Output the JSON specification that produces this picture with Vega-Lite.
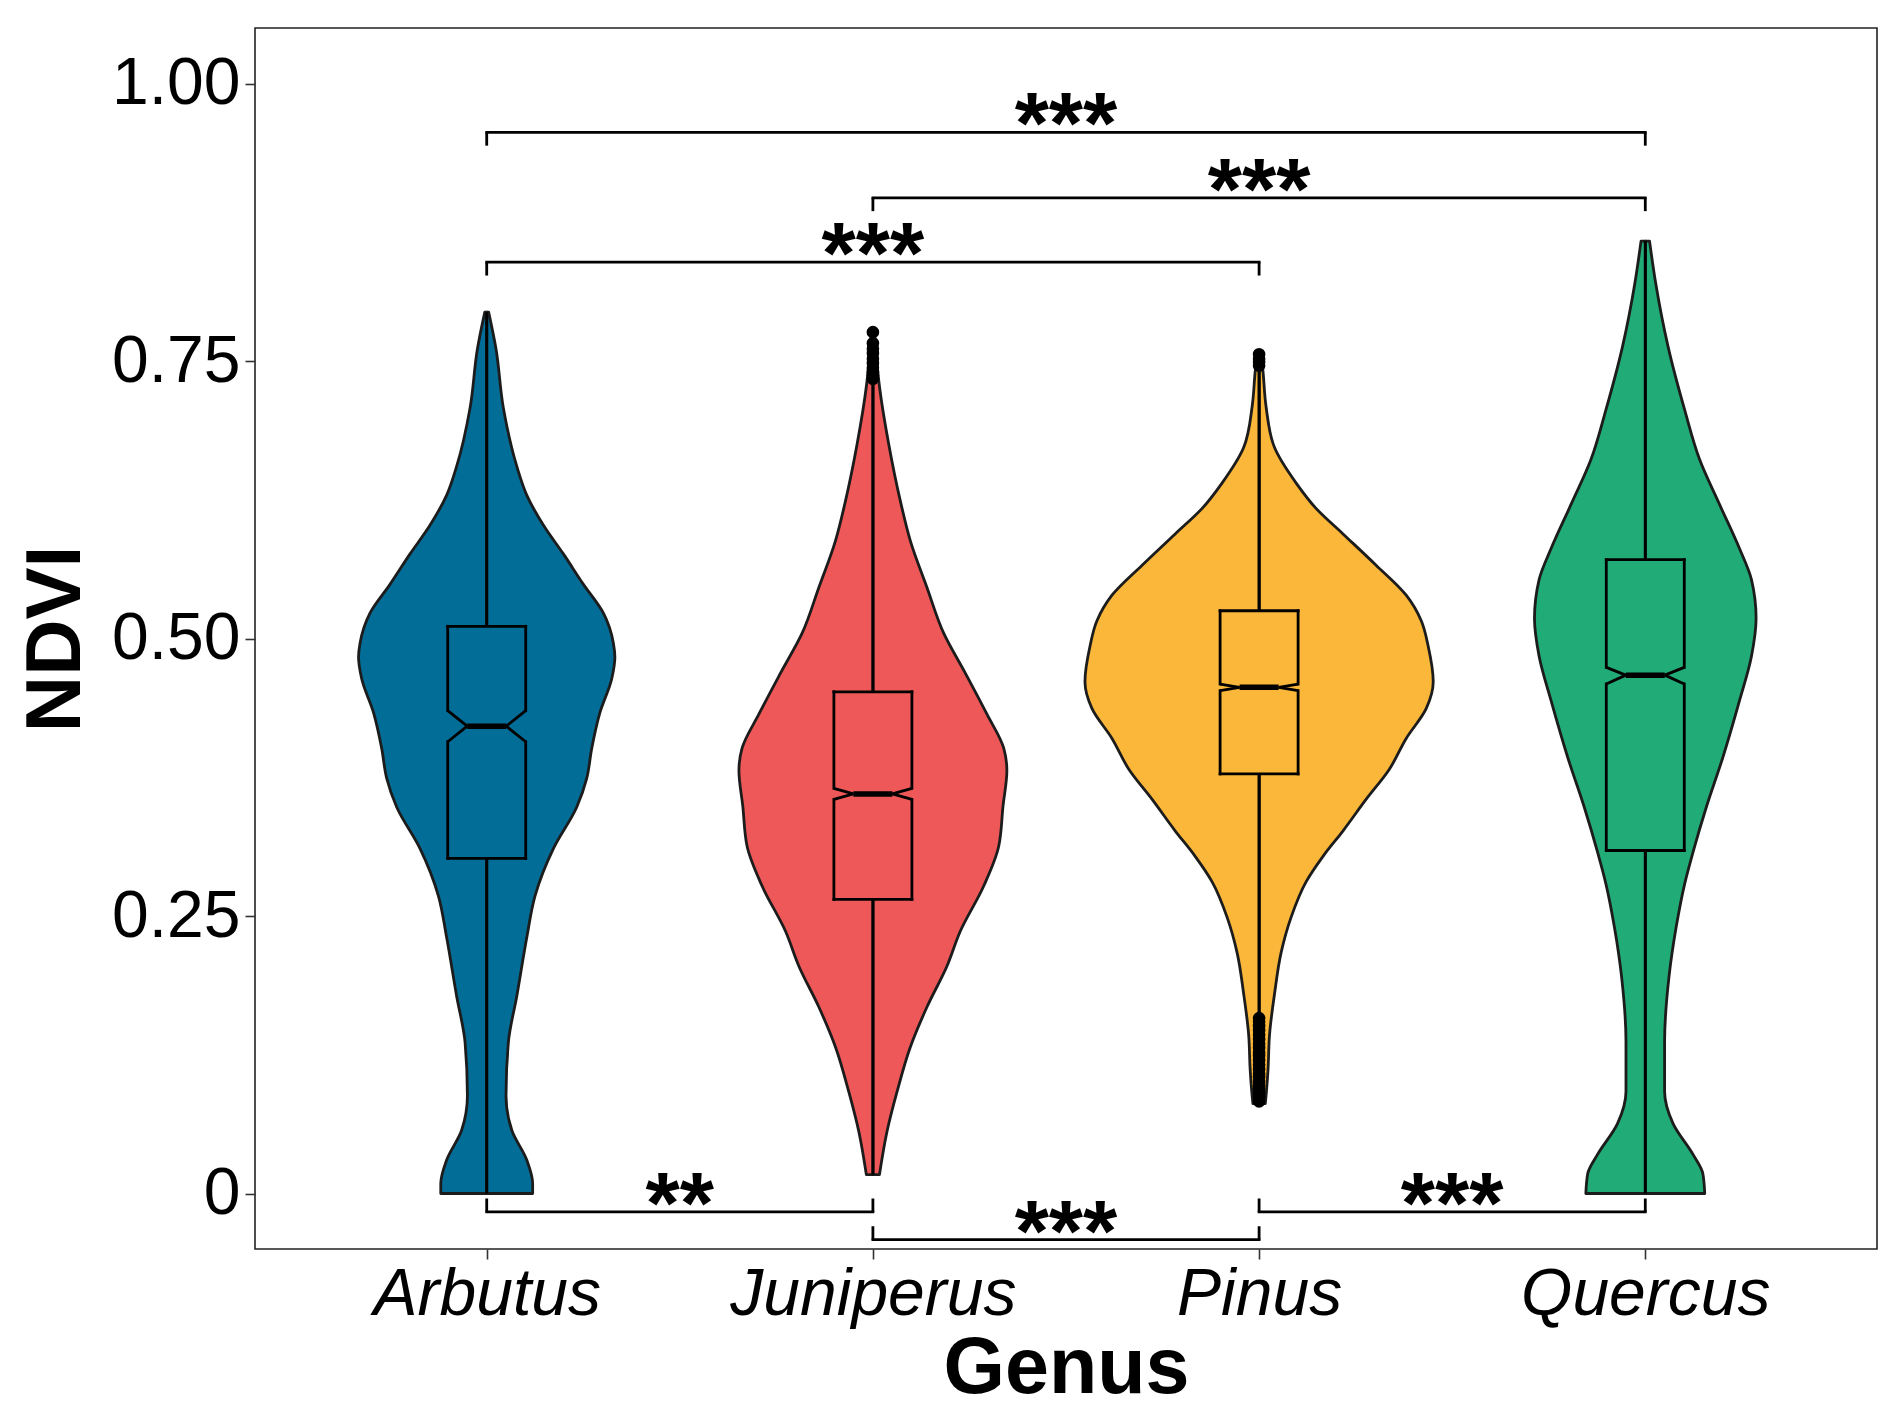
{
  "$schema": "https://vega.github.io/schema/vega-lite/v6.json",
  "width": 1622,
  "height": 1221,
  "autosize": {"type": "none"},
  "padding": {"left": 255, "top": 28, "right": 22, "bottom": 170},
  "background": "white",
  "config": {"view": {"stroke": "#222222", "strokeWidth": 1.6}, "font": "Liberation Sans"},
  "datasets": {
    "violin": [
      {"genus": "Arbutus", "ndvi": 0.794, "density": 0.005},
      {"genus": "Arbutus", "ndvi": 0.761, "density": 0.024},
      {"genus": "Arbutus", "ndvi": 0.708, "density": 0.043},
      {"genus": "Arbutus", "ndvi": 0.655, "density": 0.078},
      {"genus": "Arbutus", "ndvi": 0.629, "density": 0.104},
      {"genus": "Arbutus", "ndvi": 0.602, "density": 0.147},
      {"genus": "Arbutus", "ndvi": 0.576, "density": 0.199},
      {"genus": "Arbutus", "ndvi": 0.549, "density": 0.25},
      {"genus": "Arbutus", "ndvi": 0.523, "density": 0.302},
      {"genus": "Arbutus", "ndvi": 0.496, "density": 0.328},
      {"genus": "Arbutus", "ndvi": 0.483, "density": 0.332},
      {"genus": "Arbutus", "ndvi": 0.464, "density": 0.324},
      {"genus": "Arbutus", "ndvi": 0.433, "density": 0.293},
      {"genus": "Arbutus", "ndvi": 0.401, "density": 0.272},
      {"genus": "Arbutus", "ndvi": 0.374, "density": 0.259},
      {"genus": "Arbutus", "ndvi": 0.348, "density": 0.233},
      {"genus": "Arbutus", "ndvi": 0.311, "density": 0.173},
      {"genus": "Arbutus", "ndvi": 0.268, "density": 0.125},
      {"genus": "Arbutus", "ndvi": 0.231, "density": 0.104},
      {"genus": "Arbutus", "ndvi": 0.178, "density": 0.078},
      {"genus": "Arbutus", "ndvi": 0.136, "density": 0.056},
      {"genus": "Arbutus", "ndvi": 0.088, "density": 0.05},
      {"genus": "Arbutus", "ndvi": 0.057, "density": 0.065},
      {"genus": "Arbutus", "ndvi": 0.03, "density": 0.104},
      {"genus": "Arbutus", "ndvi": 0.009, "density": 0.119},
      {"genus": "Arbutus", "ndvi": 0.0, "density": 0.119},
      {"genus": "Juniperus", "ndvi": 0.777, "density": 0.004},
      {"genus": "Juniperus", "ndvi": 0.727, "density": 0.017},
      {"genus": "Juniperus", "ndvi": 0.675, "density": 0.041},
      {"genus": "Juniperus", "ndvi": 0.624, "density": 0.071},
      {"genus": "Juniperus", "ndvi": 0.588, "density": 0.097},
      {"genus": "Juniperus", "ndvi": 0.546, "density": 0.14},
      {"genus": "Juniperus", "ndvi": 0.505, "density": 0.183},
      {"genus": "Juniperus", "ndvi": 0.469, "density": 0.239},
      {"genus": "Juniperus", "ndvi": 0.432, "density": 0.295},
      {"genus": "Juniperus", "ndvi": 0.401, "density": 0.339},
      {"genus": "Juniperus", "ndvi": 0.381, "density": 0.347},
      {"genus": "Juniperus", "ndvi": 0.349, "density": 0.337},
      {"genus": "Juniperus", "ndvi": 0.313, "density": 0.326},
      {"genus": "Juniperus", "ndvi": 0.277, "density": 0.287},
      {"genus": "Juniperus", "ndvi": 0.236, "density": 0.226},
      {"genus": "Juniperus", "ndvi": 0.205, "density": 0.192},
      {"genus": "Juniperus", "ndvi": 0.168, "density": 0.14},
      {"genus": "Juniperus", "ndvi": 0.132, "density": 0.097},
      {"genus": "Juniperus", "ndvi": 0.091, "density": 0.062},
      {"genus": "Juniperus", "ndvi": 0.055, "density": 0.036},
      {"genus": "Juniperus", "ndvi": 0.017, "density": 0.017},
      {"genus": "Pinus", "ndvi": 0.757, "density": 0.005},
      {"genus": "Pinus", "ndvi": 0.741, "density": 0.01},
      {"genus": "Pinus", "ndvi": 0.709, "density": 0.018},
      {"genus": "Pinus", "ndvi": 0.672, "density": 0.04},
      {"genus": "Pinus", "ndvi": 0.64, "density": 0.096},
      {"genus": "Pinus", "ndvi": 0.617, "density": 0.148},
      {"genus": "Pinus", "ndvi": 0.594, "density": 0.218},
      {"genus": "Pinus", "ndvi": 0.566, "density": 0.303},
      {"genus": "Pinus", "ndvi": 0.539, "density": 0.381},
      {"genus": "Pinus", "ndvi": 0.516, "density": 0.42},
      {"genus": "Pinus", "ndvi": 0.493, "density": 0.438},
      {"genus": "Pinus", "ndvi": 0.461, "density": 0.451},
      {"genus": "Pinus", "ndvi": 0.437, "density": 0.433},
      {"genus": "Pinus", "ndvi": 0.41, "density": 0.381},
      {"genus": "Pinus", "ndvi": 0.382, "density": 0.337},
      {"genus": "Pinus", "ndvi": 0.355, "density": 0.277},
      {"genus": "Pinus", "ndvi": 0.327, "density": 0.218},
      {"genus": "Pinus", "ndvi": 0.304, "density": 0.166},
      {"genus": "Pinus", "ndvi": 0.281, "density": 0.122},
      {"genus": "Pinus", "ndvi": 0.249, "density": 0.083},
      {"genus": "Pinus", "ndvi": 0.217, "density": 0.057},
      {"genus": "Pinus", "ndvi": 0.18, "density": 0.04},
      {"genus": "Pinus", "ndvi": 0.143, "density": 0.027},
      {"genus": "Pinus", "ndvi": 0.111, "density": 0.023},
      {"genus": "Pinus", "ndvi": 0.088, "density": 0.018},
      {"genus": "Pinus", "ndvi": 0.081, "density": 0.016},
      {"genus": "Quercus", "ndvi": 0.858, "density": 0.011},
      {"genus": "Quercus", "ndvi": 0.82, "density": 0.027},
      {"genus": "Quercus", "ndvi": 0.763, "density": 0.059},
      {"genus": "Quercus", "ndvi": 0.706, "density": 0.102},
      {"genus": "Quercus", "ndvi": 0.661, "density": 0.141},
      {"genus": "Quercus", "ndvi": 0.621, "density": 0.192},
      {"genus": "Quercus", "ndvi": 0.581, "density": 0.244},
      {"genus": "Quercus", "ndvi": 0.553, "density": 0.275},
      {"genus": "Quercus", "ndvi": 0.518, "density": 0.287},
      {"genus": "Quercus", "ndvi": 0.484, "density": 0.275},
      {"genus": "Quercus", "ndvi": 0.444, "density": 0.244},
      {"genus": "Quercus", "ndvi": 0.393, "density": 0.201},
      {"genus": "Quercus", "ndvi": 0.348, "density": 0.158},
      {"genus": "Quercus", "ndvi": 0.308, "density": 0.124},
      {"genus": "Quercus", "ndvi": 0.279, "density": 0.102},
      {"genus": "Quercus", "ndvi": 0.24, "density": 0.08},
      {"genus": "Quercus", "ndvi": 0.194, "density": 0.061},
      {"genus": "Quercus", "ndvi": 0.137, "density": 0.05},
      {"genus": "Quercus", "ndvi": 0.092, "density": 0.05},
      {"genus": "Quercus", "ndvi": 0.063, "density": 0.072},
      {"genus": "Quercus", "ndvi": 0.035, "density": 0.124},
      {"genus": "Quercus", "ndvi": 0.018, "density": 0.149},
      {"genus": "Quercus", "ndvi": 0.0, "density": 0.154}
    ],
    "box": [
      {"genus": "Arbutus", "lower": 0.302, "upper": 0.511, "median": 0.421, "notch_lo": 0.407, "notch_hi": 0.435, "whisk_lo": 0.0, "whisk_hi": 0.794},
      {"genus": "Juniperus", "lower": 0.265, "upper": 0.452, "median": 0.36, "notch_lo": 0.355, "notch_hi": 0.365, "whisk_lo": 0.017, "whisk_hi": 0.73},
      {"genus": "Pinus", "lower": 0.378, "upper": 0.525, "median": 0.456, "notch_lo": 0.453, "notch_hi": 0.459, "whisk_lo": 0.16, "whisk_hi": 0.745},
      {"genus": "Quercus", "lower": 0.309, "upper": 0.571, "median": 0.467, "notch_lo": 0.459, "notch_hi": 0.474, "whisk_lo": 0.0, "whisk_hi": 0.858}
    ],
    "outliers": [
      {"genus": "Juniperus", "ndvi": 0.776},
      {"genus": "Juniperus", "ndvi": 0.766},
      {"genus": "Juniperus", "ndvi": 0.761},
      {"genus": "Juniperus", "ndvi": 0.757},
      {"genus": "Juniperus", "ndvi": 0.752},
      {"genus": "Juniperus", "ndvi": 0.748},
      {"genus": "Juniperus", "ndvi": 0.744},
      {"genus": "Juniperus", "ndvi": 0.74},
      {"genus": "Juniperus", "ndvi": 0.737},
      {"genus": "Juniperus", "ndvi": 0.734},
      {"genus": "Pinus", "ndvi": 0.756},
      {"genus": "Pinus", "ndvi": 0.752},
      {"genus": "Pinus", "ndvi": 0.749},
      {"genus": "Pinus", "ndvi": 0.746},
      {"genus": "Pinus", "ndvi": 0.083},
      {"genus": "Pinus", "ndvi": 0.087},
      {"genus": "Pinus", "ndvi": 0.09},
      {"genus": "Pinus", "ndvi": 0.094},
      {"genus": "Pinus", "ndvi": 0.097},
      {"genus": "Pinus", "ndvi": 0.101},
      {"genus": "Pinus", "ndvi": 0.105},
      {"genus": "Pinus", "ndvi": 0.108},
      {"genus": "Pinus", "ndvi": 0.112},
      {"genus": "Pinus", "ndvi": 0.116},
      {"genus": "Pinus", "ndvi": 0.12},
      {"genus": "Pinus", "ndvi": 0.124},
      {"genus": "Pinus", "ndvi": 0.127},
      {"genus": "Pinus", "ndvi": 0.131},
      {"genus": "Pinus", "ndvi": 0.135},
      {"genus": "Pinus", "ndvi": 0.139},
      {"genus": "Pinus", "ndvi": 0.143},
      {"genus": "Pinus", "ndvi": 0.147},
      {"genus": "Pinus", "ndvi": 0.151},
      {"genus": "Pinus", "ndvi": 0.155},
      {"genus": "Pinus", "ndvi": 0.158}
    ],
    "brackets": [
      {"g1": "Arbutus", "g2": "Quercus", "y": 0.956, "yt": 0.944, "mid": 2.5, "label": "***"},
      {"g1": "Juniperus", "g2": "Quercus", "y": 0.897, "yt": 0.885, "mid": 3.0, "label": "***"},
      {"g1": "Arbutus", "g2": "Pinus", "y": 0.839, "yt": 0.827, "mid": 2.0, "label": "***"},
      {"g1": "Arbutus", "g2": "Juniperus", "y": -0.0165, "yt": -0.0045, "mid": 1.5, "label": "**"},
      {"g1": "Juniperus", "g2": "Pinus", "y": -0.0415, "yt": -0.0295, "mid": 2.5, "label": "***"},
      {"g1": "Pinus", "g2": "Quercus", "y": -0.0165, "yt": -0.0045, "mid": 3.5, "label": "***"}
    ]
  },
  "layer": [
    {
      "resolve": {"scale": {"xOffset": "independent"}},
      "layer": [
        {
          "data": {"name": "violin"},
          "mark": {"type": "area", "orient": "horizontal", "interpolate": "monotone", "stroke": "#1c1c1c", "strokeWidth": 2.8, "strokeJoin": "round"},
          "encoding": {
            "x": {"field": "genus", "type": "nominal", "title": "Genus",
              "scale": {"type": "point", "domain": ["Arbutus", "Juniperus", "Pinus", "Quercus"], "padding": 0.6},
              "axis": {"labelFontSize": 66, "labelFontStyle": "italic", "labelColor": "#000000", "labelAngle": 0, "labelPadding": 3, "labelLimit": 600,
                "tickSize": 10, "tickColor": "#333333", "tickWidth": 1.6, "domain": false, "grid": false,
                "titleFontSize": 79, "titleFontWeight": "bold", "titleColor": "#000000", "titlePadding": 3}},
            "x2": {"field": "genus"},
            "xOffset": {"field": "density", "type": "quantitative", "scale": {"domain": [0, 1], "range": [0, 386.1]}},
            "y": {"field": "ndvi", "type": "quantitative", "title": "NDVI", "stack": null,
              "scale": {"domain": [-0.05, 1.05], "nice": false, "zero": false},
              "axis": {"values": [0, 0.25, 0.5, 0.75, 1], "labelExpr": "datum.value === 0 ? '0' : format(datum.value, '.2f')",
                "labelFontSize": 66, "labelColor": "#000000", "labelPadding": 5, "tickSize": 10, "tickColor": "#333333", "tickWidth": 1.6,
                "domain": false, "grid": false, "titleFontSize": 78, "titleFontWeight": "bold", "titleColor": "#000000", "titlePadding": 16}},
            "fill": {"field": "genus", "type": "nominal", "legend": null,
              "scale": {"domain": ["Arbutus", "Juniperus", "Pinus", "Quercus"], "range": ["#026D97", "#EF5858", "#FBB73A", "#21AB76"]}}
          }
        },
        {
          "data": {"name": "violin"},
          "mark": {"type": "area", "orient": "horizontal", "interpolate": "monotone", "stroke": "#1c1c1c", "strokeWidth": 2.8, "strokeJoin": "round"},
          "encoding": {
            "x": {"field": "genus", "type": "nominal", "title": "Genus"},
            "x2": {"field": "genus"},
            "xOffset": {"field": "density", "type": "quantitative", "scale": {"domain": [0, 1], "range": [0, -386.1]}},
            "y": {"field": "ndvi", "type": "quantitative", "title": "NDVI", "stack": null},
            "fill": {"field": "genus", "type": "nominal", "legend": null}
          }
        },
        {
          "data": {"name": "box"},
          "mark": {"type": "rule", "strokeWidth": 77},
          "encoding": {
            "x": {"field": "genus", "type": "nominal", "title": "Genus"},
            "y": {"field": "lower", "type": "quantitative", "title": "NDVI"},
            "y2": {"field": "upper"},
            "color": {"field": "genus", "type": "nominal", "legend": null,
              "scale": {"domain": ["Arbutus", "Juniperus", "Pinus", "Quercus"], "range": ["#026D97", "#EF5858", "#FBB73A", "#21AB76"]}}
          }
        },
        {
          "data": {"name": "box"},
          "mark": {"type": "rule", "strokeWidth": 2.8, "color": "#000000"},
          "encoding": {
            "x": {"field": "genus", "type": "nominal", "title": "Genus"},
            "y": {"field": "whisk_lo", "type": "quantitative", "title": "NDVI"},
            "y2": {"field": "lower"}
          }
        },
        {
          "data": {"name": "box"},
          "mark": {"type": "rule", "strokeWidth": 2.8, "color": "#000000"},
          "encoding": {
            "x": {"field": "genus", "type": "nominal", "title": "Genus"},
            "y": {"field": "upper", "type": "quantitative", "title": "NDVI"},
            "y2": {"field": "whisk_hi"}
          }
        },
        {
          "data": {"name": "box"},
          "mark": {"type": "rule", "strokeWidth": 2.8, "color": "#000000", "xOffset": -39, "strokeCap": "square"},
          "encoding": {
            "x": {"field": "genus", "type": "nominal", "title": "Genus"},
            "y": {"field": "lower", "type": "quantitative", "title": "NDVI"},
            "y2": {"field": "notch_lo"}
          }
        },
        {
          "data": {"name": "box"},
          "mark": {"type": "rule", "strokeWidth": 2.8, "color": "#000000", "xOffset": -39, "strokeCap": "square"},
          "encoding": {
            "x": {"field": "genus", "type": "nominal", "title": "Genus"},
            "y": {"field": "notch_hi", "type": "quantitative", "title": "NDVI"},
            "y2": {"field": "upper"}
          }
        },
        {
          "data": {"name": "box"},
          "mark": {"type": "rule", "strokeWidth": 2.8, "color": "#000000", "xOffset": 39, "strokeCap": "square"},
          "encoding": {
            "x": {"field": "genus", "type": "nominal", "title": "Genus"},
            "y": {"field": "lower", "type": "quantitative", "title": "NDVI"},
            "y2": {"field": "notch_lo"}
          }
        },
        {
          "data": {"name": "box"},
          "mark": {"type": "rule", "strokeWidth": 2.8, "color": "#000000", "xOffset": 39, "strokeCap": "square"},
          "encoding": {
            "x": {"field": "genus", "type": "nominal", "title": "Genus"},
            "y": {"field": "notch_hi", "type": "quantitative", "title": "NDVI"},
            "y2": {"field": "upper"}
          }
        },
        {
          "data": {"name": "box"},
          "mark": {"type": "rule", "strokeWidth": 2.8, "color": "#000000", "xOffset": -39, "x2Offset": 39, "strokeCap": "square"},
          "encoding": {
            "x": {"field": "genus", "type": "nominal", "title": "Genus"},
            "x2": {"field": "genus"},
            "y": {"field": "upper", "type": "quantitative", "title": "NDVI"}
          }
        },
        {
          "data": {"name": "box"},
          "mark": {"type": "rule", "strokeWidth": 2.8, "color": "#000000", "xOffset": -39, "x2Offset": 39, "strokeCap": "square"},
          "encoding": {
            "x": {"field": "genus", "type": "nominal", "title": "Genus"},
            "x2": {"field": "genus"},
            "y": {"field": "lower", "type": "quantitative", "title": "NDVI"}
          }
        },
        {
          "data": {"name": "box"},
          "mark": {"type": "rule", "strokeWidth": 2.8, "color": "#000000", "xOffset": -39, "x2Offset": -19.5},
          "encoding": {
            "x": {"field": "genus", "type": "nominal", "title": "Genus"},
            "x2": {"field": "genus"},
            "y": {"field": "notch_hi", "type": "quantitative", "title": "NDVI"},
            "y2": {"field": "median"}
          }
        },
        {
          "data": {"name": "box"},
          "mark": {"type": "rule", "strokeWidth": 2.8, "color": "#000000", "xOffset": -39, "x2Offset": -19.5},
          "encoding": {
            "x": {"field": "genus", "type": "nominal", "title": "Genus"},
            "x2": {"field": "genus"},
            "y": {"field": "notch_lo", "type": "quantitative", "title": "NDVI"},
            "y2": {"field": "median"}
          }
        },
        {
          "data": {"name": "box"},
          "mark": {"type": "rule", "strokeWidth": 2.8, "color": "#000000", "xOffset": 39, "x2Offset": 19.5},
          "encoding": {
            "x": {"field": "genus", "type": "nominal", "title": "Genus"},
            "x2": {"field": "genus"},
            "y": {"field": "notch_hi", "type": "quantitative", "title": "NDVI"},
            "y2": {"field": "median"}
          }
        },
        {
          "data": {"name": "box"},
          "mark": {"type": "rule", "strokeWidth": 2.8, "color": "#000000", "xOffset": 39, "x2Offset": 19.5},
          "encoding": {
            "x": {"field": "genus", "type": "nominal", "title": "Genus"},
            "x2": {"field": "genus"},
            "y": {"field": "notch_lo", "type": "quantitative", "title": "NDVI"},
            "y2": {"field": "median"}
          }
        },
        {
          "data": {"name": "box"},
          "mark": {"type": "rule", "strokeWidth": 5.5, "color": "#000000", "xOffset": -19.5, "x2Offset": 19.5},
          "encoding": {
            "x": {"field": "genus", "type": "nominal", "title": "Genus"},
            "x2": {"field": "genus"},
            "y": {"field": "median", "type": "quantitative", "title": "NDVI"}
          }
        },
        {
          "data": {"name": "outliers"},
          "mark": {"type": "point", "filled": true, "color": "#000000", "opacity": 1, "size": 160},
          "encoding": {
            "x": {"field": "genus", "type": "nominal", "title": "Genus"},
            "y": {"field": "ndvi", "type": "quantitative", "title": "NDVI"}
          }
        },
        {
          "data": {"name": "brackets"},
          "mark": {"type": "rule", "strokeWidth": 2.8, "color": "#000000", "strokeCap": "square"},
          "encoding": {
            "x": {"field": "g1", "type": "nominal", "title": "Genus"},
            "x2": {"field": "g2"},
            "y": {"field": "y", "type": "quantitative", "title": "NDVI"}
          }
        },
        {
          "data": {"name": "brackets"},
          "mark": {"type": "rule", "strokeWidth": 2.8, "color": "#000000"},
          "encoding": {
            "x": {"field": "g1", "type": "nominal", "title": "Genus"},
            "y": {"field": "y", "type": "quantitative", "title": "NDVI"},
            "y2": {"field": "yt"}
          }
        },
        {
          "data": {"name": "brackets"},
          "mark": {"type": "rule", "strokeWidth": 2.8, "color": "#000000"},
          "encoding": {
            "x": {"field": "g2", "type": "nominal", "title": "Genus"},
            "y": {"field": "y", "type": "quantitative", "title": "NDVI"},
            "y2": {"field": "yt"}
          }
        }
      ]
    },
    {
      "data": {"name": "brackets"},
      "mark": {"type": "text", "fontSize": 88, "fontWeight": "bold", "align": "center", "baseline": "alphabetic", "dy": 21, "color": "#000000"},
      "encoding": {
        "x": {"field": "mid", "type": "quantitative", "axis": null, "scale": {"domain": [0.4, 4.6], "nice": false, "zero": false}},
        "y": {"field": "y", "type": "quantitative", "title": "NDVI", "stack": null},
        "text": {"field": "label"}
      }
    }
  ],
  "resolve": {"scale": {"x": "independent"}}
}
